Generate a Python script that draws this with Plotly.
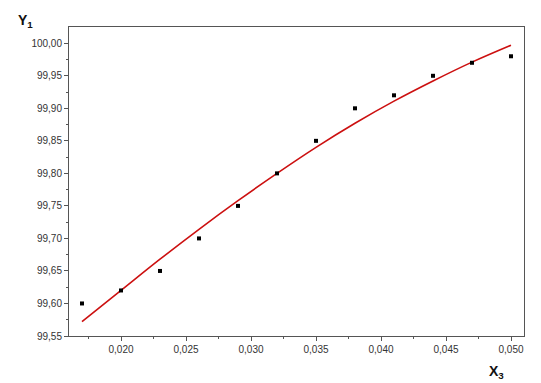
import plotly.graph_objects as go

x_pts = [0.017, 0.020, 0.023, 0.026, 0.029, 0.032, 0.035, 0.038, 0.041, 0.044, 0.047, 0.050]
y_pts = [99.60, 99.62, 99.65, 99.70, 99.75, 99.80, 99.85, 99.90, 99.92, 99.95, 99.97, 99.98]
y_fit = [99.572, 99.620, 99.668, 99.714, 99.758, 99.800, 99.840, 99.877, 99.911, 99.942, 99.971, 99.997]

x_ticks = [0.020, 0.025, 0.030, 0.035, 0.040, 0.045, 0.050]
x_labels = ["0,020", "0,025", "0,030", "0,035", "0,040", "0,045", "0,050"]
y_ticks = [99.55, 99.60, 99.65, 99.70, 99.75, 99.80, 99.85, 99.90, 99.95, 100.00]
y_labels = ["99,55", "99,60", "99,65", "99,70", "99,75", "99,80", "99,85", "99,90", "99,95", "100,00"]

fig = go.Figure()
fig.add_trace(go.Scatter(x=x_pts, y=y_fit, mode="lines", line=dict(color="#cc1010", width=1.6, shape="spline"),
                         showlegend=False))
fig.add_trace(go.Scatter(x=x_pts, y=y_pts, mode="markers",
                         marker=dict(symbol="square", size=4, color="black"), showlegend=False))

axis_common = dict(showgrid=False, zeroline=False, showline=True, linecolor="#555555", linewidth=1,
                   mirror=True, ticks="outside", ticklen=4, tickcolor="#555555",
                   tickfont=dict(family="Liberation Sans, Arial", size=10, color="#333333"))
fig.update_xaxes(range=[0.016, 0.051], tickvals=x_ticks, ticktext=x_labels,
                 minor=dict(tickvals=[0.0175, 0.0225, 0.0275, 0.0325, 0.0375, 0.0425, 0.0475],
                            ticks="outside", ticklen=2, tickcolor="#555555"),
                 **axis_common)
fig.update_yaxes(range=[99.55, 100.025], tickvals=y_ticks, ticktext=y_labels,
                 minor=dict(tickvals=[99.575, 99.625, 99.675, 99.725, 99.775, 99.825, 99.875, 99.925, 99.975],
                            ticks="outside", ticklen=2, tickcolor="#555555"),
                 **axis_common)

fig.add_annotation(text="<b>Y</b><sub><b>1</b></sub>", xref="paper", yref="paper", x=-0.095, y=1.02,
                   xanchor="center", yanchor="middle", showarrow=False,
                   font=dict(family="Liberation Sans, Arial", size=14, color="#111111"))
fig.add_annotation(text="<b>X</b><sub><b>3</b></sub>", xref="paper", yref="paper", x=0.94, y=-0.115,
                   xanchor="center", yanchor="middle", showarrow=False,
                   font=dict(family="Liberation Sans, Arial", size=14, color="#111111"))

fig.update_layout(width=541, height=383, margin=dict(l=69, r=17, t=27, b=47),
                  plot_bgcolor="white", paper_bgcolor="white")
fig.write_html("out.html")
